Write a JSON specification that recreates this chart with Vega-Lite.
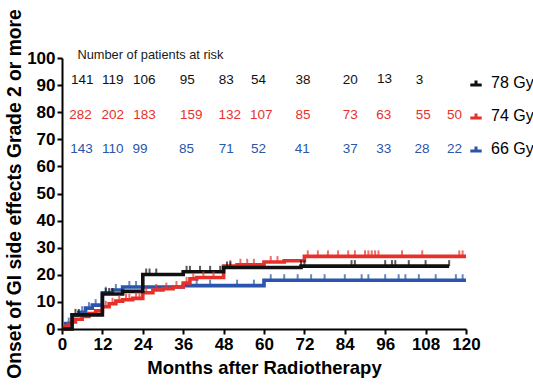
{
  "$schema": "https://vega.github.io/schema/vega-lite/v6.json",
  "width": 404,
  "height": 271,
  "autosize": {"type": "none"},
  "padding": {"left": 62, "top": 58, "right": 67, "bottom": 56},
  "background": "white",
  "config": {
    "view": {"stroke": null},
    "font": "Liberation Sans",
    "axis": {
      "grid": false,
      "domainColor": "#000000",
      "domainWidth": 2,
      "tickColor": "#000000",
      "tickWidth": 2,
      "tickSize": 5,
      "labelFont": "Liberation Sans",
      "labelFontSize": 17,
      "labelFontWeight": "bold",
      "labelColor": "#000000",
      "labelPadding": 2,
      "labelOverlap": false,
      "labelSeparation": -20,
      "titleFont": "Liberation Sans",
      "titleFontWeight": "bold",
      "titleColor": "#000000"
    }
  },
  "datasets": {
    "curves": [
      {"series": "66 Gy", "month": 0, "pct": 0},
      {"series": "66 Gy", "month": 1, "pct": 2},
      {"series": "66 Gy", "month": 3, "pct": 5.2},
      {"series": "66 Gy", "month": 5, "pct": 6.2},
      {"series": "66 Gy", "month": 7, "pct": 7.7},
      {"series": "66 Gy", "month": 9, "pct": 8.8},
      {"series": "66 Gy", "month": 12, "pct": 13.4},
      {"series": "66 Gy", "month": 15, "pct": 14.4},
      {"series": "66 Gy", "month": 18, "pct": 15.5},
      {"series": "66 Gy", "month": 36, "pct": 16},
      {"series": "66 Gy", "month": 60, "pct": 18},
      {"series": "66 Gy", "month": 120, "pct": 18},
      {"series": "74 Gy", "month": 0, "pct": 0},
      {"series": "74 Gy", "month": 1, "pct": 1},
      {"series": "74 Gy", "month": 2, "pct": 2},
      {"series": "74 Gy", "month": 3, "pct": 2.6},
      {"series": "74 Gy", "month": 4, "pct": 3.6},
      {"series": "74 Gy", "month": 6, "pct": 4.6},
      {"series": "74 Gy", "month": 8, "pct": 5.7},
      {"series": "74 Gy", "month": 10, "pct": 6.7},
      {"series": "74 Gy", "month": 12, "pct": 8.2},
      {"series": "74 Gy", "month": 14, "pct": 9.3},
      {"series": "74 Gy", "month": 16, "pct": 10.3},
      {"series": "74 Gy", "month": 18, "pct": 10.8},
      {"series": "74 Gy", "month": 21, "pct": 11.3},
      {"series": "74 Gy", "month": 24, "pct": 13.4},
      {"series": "74 Gy", "month": 27, "pct": 14.4},
      {"series": "74 Gy", "month": 30, "pct": 14.9},
      {"series": "74 Gy", "month": 33, "pct": 15.5},
      {"series": "74 Gy", "month": 36, "pct": 17},
      {"series": "74 Gy", "month": 38, "pct": 18.5},
      {"series": "74 Gy", "month": 40, "pct": 19},
      {"series": "74 Gy", "month": 48, "pct": 23.2},
      {"series": "74 Gy", "month": 52, "pct": 23.7},
      {"series": "74 Gy", "month": 60, "pct": 24.7},
      {"series": "74 Gy", "month": 66, "pct": 25.2},
      {"series": "74 Gy", "month": 72, "pct": 26.8},
      {"series": "74 Gy", "month": 120, "pct": 26.8},
      {"series": "78 Gy", "month": 0, "pct": 0},
      {"series": "78 Gy", "month": 3, "pct": 5.2},
      {"series": "78 Gy", "month": 12, "pct": 12.9},
      {"series": "78 Gy", "month": 18, "pct": 13.9},
      {"series": "78 Gy", "month": 24, "pct": 20.1},
      {"series": "78 Gy", "month": 36, "pct": 21.1},
      {"series": "78 Gy", "month": 48, "pct": 22.7},
      {"series": "78 Gy", "month": 71, "pct": 23.2},
      {"series": "78 Gy", "month": 115, "pct": 23.2}
    ],
    "censors": [
      {"series": "66 Gy", "month": 2, "pct": 2},
      {"series": "66 Gy", "month": 6, "pct": 6.2},
      {"series": "66 Gy", "month": 8, "pct": 7.7},
      {"series": "66 Gy", "month": 10, "pct": 8.8},
      {"series": "66 Gy", "month": 13, "pct": 13.4},
      {"series": "66 Gy", "month": 16, "pct": 14.4},
      {"series": "66 Gy", "month": 20, "pct": 15.5},
      {"series": "66 Gy", "month": 22, "pct": 15.5},
      {"series": "66 Gy", "month": 40, "pct": 16},
      {"series": "66 Gy", "month": 44, "pct": 16},
      {"series": "66 Gy", "month": 52, "pct": 16},
      {"series": "66 Gy", "month": 57, "pct": 16},
      {"series": "66 Gy", "month": 62, "pct": 18},
      {"series": "66 Gy", "month": 66, "pct": 18},
      {"series": "66 Gy", "month": 70, "pct": 18},
      {"series": "66 Gy", "month": 74, "pct": 18},
      {"series": "66 Gy", "month": 78, "pct": 18},
      {"series": "66 Gy", "month": 84, "pct": 18},
      {"series": "66 Gy", "month": 89, "pct": 18},
      {"series": "66 Gy", "month": 91, "pct": 18},
      {"series": "66 Gy", "month": 96, "pct": 18},
      {"series": "66 Gy", "month": 100, "pct": 18},
      {"series": "66 Gy", "month": 102, "pct": 18},
      {"series": "66 Gy", "month": 106, "pct": 18},
      {"series": "66 Gy", "month": 111, "pct": 18},
      {"series": "66 Gy", "month": 117, "pct": 18},
      {"series": "66 Gy", "month": 119, "pct": 18},
      {"series": "74 Gy", "month": 13, "pct": 8.2},
      {"series": "74 Gy", "month": 15, "pct": 9.3},
      {"series": "74 Gy", "month": 17, "pct": 10.3},
      {"series": "74 Gy", "month": 19, "pct": 10.8},
      {"series": "74 Gy", "month": 20, "pct": 10.8},
      {"series": "74 Gy", "month": 22, "pct": 11.3},
      {"series": "74 Gy", "month": 23, "pct": 11.3},
      {"series": "74 Gy", "month": 25, "pct": 13.4},
      {"series": "74 Gy", "month": 28, "pct": 14.4},
      {"series": "74 Gy", "month": 31, "pct": 14.9},
      {"series": "74 Gy", "month": 34, "pct": 15.5},
      {"series": "74 Gy", "month": 37, "pct": 17},
      {"series": "74 Gy", "month": 39, "pct": 18.5},
      {"series": "74 Gy", "month": 42, "pct": 19},
      {"series": "74 Gy", "month": 45, "pct": 19},
      {"series": "74 Gy", "month": 50, "pct": 23.2},
      {"series": "74 Gy", "month": 53, "pct": 23.7},
      {"series": "74 Gy", "month": 55, "pct": 23.7},
      {"series": "74 Gy", "month": 57, "pct": 23.7},
      {"series": "74 Gy", "month": 62, "pct": 24.7},
      {"series": "74 Gy", "month": 64, "pct": 24.7},
      {"series": "74 Gy", "month": 73, "pct": 26.8},
      {"series": "74 Gy", "month": 76, "pct": 26.8},
      {"series": "74 Gy", "month": 79, "pct": 26.8},
      {"series": "74 Gy", "month": 82, "pct": 26.8},
      {"series": "74 Gy", "month": 85, "pct": 26.8},
      {"series": "74 Gy", "month": 87, "pct": 26.8},
      {"series": "74 Gy", "month": 90, "pct": 26.8},
      {"series": "74 Gy", "month": 91, "pct": 26.8},
      {"series": "74 Gy", "month": 92, "pct": 26.8},
      {"series": "74 Gy", "month": 93, "pct": 26.8},
      {"series": "74 Gy", "month": 94, "pct": 26.8},
      {"series": "74 Gy", "month": 101, "pct": 26.8},
      {"series": "74 Gy", "month": 107, "pct": 26.8},
      {"series": "74 Gy", "month": 118, "pct": 26.8},
      {"series": "74 Gy", "month": 119, "pct": 26.8},
      {"series": "78 Gy", "month": 4, "pct": 5.2},
      {"series": "78 Gy", "month": 5, "pct": 5.2},
      {"series": "78 Gy", "month": 13, "pct": 12.9},
      {"series": "78 Gy", "month": 14, "pct": 12.9},
      {"series": "78 Gy", "month": 15, "pct": 12.9},
      {"series": "78 Gy", "month": 25, "pct": 20.1},
      {"series": "78 Gy", "month": 26, "pct": 20.1},
      {"series": "78 Gy", "month": 28, "pct": 20.1},
      {"series": "78 Gy", "month": 37, "pct": 21.1},
      {"series": "78 Gy", "month": 38, "pct": 21.1},
      {"series": "78 Gy", "month": 41, "pct": 21.1},
      {"series": "78 Gy", "month": 44, "pct": 21.1},
      {"series": "78 Gy", "month": 47, "pct": 21.1},
      {"series": "78 Gy", "month": 49, "pct": 22.7},
      {"series": "78 Gy", "month": 50, "pct": 22.7},
      {"series": "78 Gy", "month": 71, "pct": 23.2},
      {"series": "78 Gy", "month": 72, "pct": 23.2},
      {"series": "78 Gy", "month": 86, "pct": 23.2},
      {"series": "78 Gy", "month": 87, "pct": 23.2},
      {"series": "78 Gy", "month": 96, "pct": 23.2},
      {"series": "78 Gy", "month": 98, "pct": 23.2},
      {"series": "78 Gy", "month": 99, "pct": 23.2},
      {"series": "78 Gy", "month": 103, "pct": 23.2},
      {"series": "78 Gy", "month": 108, "pct": 23.2},
      {"series": "78 Gy", "month": 115, "pct": 23.2}
    ],
    "risk": [
      {"group": "78 Gy", "month": 6, "pct": 91.8, "n": "141"},
      {"group": "78 Gy", "month": 15.1, "pct": 91.8, "n": "119"},
      {"group": "78 Gy", "month": 24.4, "pct": 91.8, "n": "106"},
      {"group": "78 Gy", "month": 37.2, "pct": 91.8, "n": "95"},
      {"group": "78 Gy", "month": 48.8, "pct": 91.8, "n": "83"},
      {"group": "78 Gy", "month": 58.4, "pct": 91.8, "n": "54"},
      {"group": "78 Gy", "month": 71.6, "pct": 91.8, "n": "38"},
      {"group": "78 Gy", "month": 85.6, "pct": 91.8, "n": "20"},
      {"group": "78 Gy", "month": 95.8, "pct": 92.3, "n": "13"},
      {"group": "78 Gy", "month": 106.2, "pct": 91.8, "n": "3"},
      {"group": "74 Gy", "month": 5.5, "pct": 78.9, "n": "282"},
      {"group": "74 Gy", "month": 15.1, "pct": 78.9, "n": "202"},
      {"group": "74 Gy", "month": 24.5, "pct": 78.9, "n": "183"},
      {"group": "74 Gy", "month": 38.4, "pct": 78.9, "n": "159"},
      {"group": "74 Gy", "month": 49.8, "pct": 78.9, "n": "132"},
      {"group": "74 Gy", "month": 59.2, "pct": 78.9, "n": "107"},
      {"group": "74 Gy", "month": 71.6, "pct": 78.9, "n": "85"},
      {"group": "74 Gy", "month": 85.6, "pct": 78.9, "n": "73"},
      {"group": "74 Gy", "month": 95.6, "pct": 78.9, "n": "63"},
      {"group": "74 Gy", "month": 107.3, "pct": 78.9, "n": "55"},
      {"group": "74 Gy", "month": 116.6, "pct": 78.9, "n": "50"},
      {"group": "66 Gy", "month": 5.8, "pct": 66.4, "n": "143"},
      {"group": "66 Gy", "month": 15.1, "pct": 66.4, "n": "110"},
      {"group": "66 Gy", "month": 23.2, "pct": 66.4, "n": "99"},
      {"group": "66 Gy", "month": 37.0, "pct": 66.4, "n": "85"},
      {"group": "66 Gy", "month": 48.8, "pct": 66.4, "n": "71"},
      {"group": "66 Gy", "month": 58.4, "pct": 66.4, "n": "52"},
      {"group": "66 Gy", "month": 71.4, "pct": 66.4, "n": "41"},
      {"group": "66 Gy", "month": 85.6, "pct": 66.4, "n": "37"},
      {"group": "66 Gy", "month": 95.6, "pct": 66.4, "n": "33"},
      {"group": "66 Gy", "month": 106.9, "pct": 66.4, "n": "28"},
      {"group": "66 Gy", "month": 116.6, "pct": 66.4, "n": "22"}
    ],
    "header": [
      {"label": "Number of patients at risk", "month": 4.6, "pct": 101}
    ]
  },
  "encoding": {
    "x": {
      "field": "month", "type": "quantitative",
      "scale": {"domain": [0, 120], "nice": false},
      "axis": {"values": [0, 12, 24, 36, 48, 60, 72, 84, 96, 108, 120], "title": "Months after Radiotherapy", "titleFontSize": 18.5, "titlePadding": 6, "labelFlush": false}
    },
    "y": {
      "field": "pct", "type": "quantitative",
      "scale": {"domain": [0, 100], "nice": false},
      "axis": {"values": [0, 10, 20, 30, 40, 50, 60, 70, 80, 90, 100], "title": "Onset of GI side effects Grade 2 or more", "titleFontSize": 19.3, "titlePadding": 2, "labelFlush": false, "labelOverlap": false}
    }
  },
  "layer": [
    {
      "data": {"name": "curves"},
      "mark": {"type": "line", "interpolate": "step-after", "strokeWidth": 3.6},
      "encoding": {
        "color": {
          "field": "series", "type": "nominal",
          "scale": {"domain": ["78 Gy", "74 Gy", "66 Gy"], "range": ["#111111", "#e8302b", "#2a55aa"]},
          "legend": {
            "title": null,
            "orient": "none",
            "legendX": 406,
            "legendY": 17,
            "symbolType": "M-1,0.35H1M0,0.35V-0.45",
            "symbolStrokeWidth": 3,
            "symbolSize": 130,
            "labelFont": "Liberation Sans",
            "labelFontSize": 16,
            "labelColor": "#000000",
            "labelOffset": 7,
            "rowPadding": 16,
            "padding": 0
          }
        },
        "detail": {"field": "series"}
      }
    },
    {
      "data": {"name": "censors"},
      "mark": {"type": "tick", "orient": "vertical", "size": 6, "thickness": 2, "yOffset": -3},
      "encoding": {
        "color": {"field": "series", "type": "nominal", "legend": null}
      }
    },
    {
      "data": {"name": "risk"},
      "mark": {"type": "text", "fontSize": 13.5, "font": "Liberation Sans", "align": "center", "baseline": "middle"},
      "encoding": {
        "text": {"field": "n"},
        "color": {
          "field": "group", "type": "nominal",
          "scale": {"domain": ["78 Gy", "74 Gy", "66 Gy"], "range": ["#1a1a1a", "#c8362f", "#2c4f96"]},
          "legend": null
        }
      }
    },
    {
      "data": {"name": "header"},
      "mark": {"type": "text", "fontSize": 12.8, "font": "Liberation Sans", "align": "left", "baseline": "middle", "color": "#1a1a1a"},
      "encoding": {
        "text": {"field": "label"}
      }
    }
  ]
}
